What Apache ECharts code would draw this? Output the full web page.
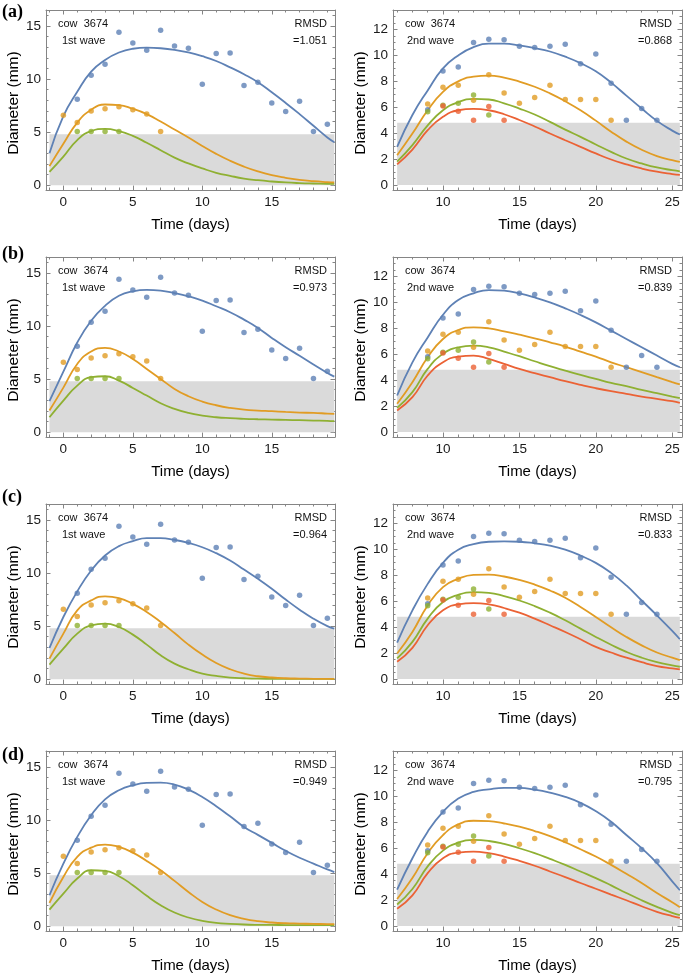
<!DOCTYPE html>
<html><head><meta charset="utf-8">
<script src="https://cdn.jsdelivr.net/npm/echarts/dist/echarts.min.js"></script>
<style>html,body{margin:0;padding:0;background:#fff}#c{width:685px;height:973px}</style>
</head><body><div id="c"></div>
<script>
// ---------- observed data (cow 3674) ----------
const w1BlueDays = [1,2,3,4,5,6,7,8,9,10,11,12,13,14,15,16,17,18,19];
const w1BlueDiam = [8.1,10.35,11.4,14.4,13.4,12.7,14.6,13.1,12.9,9.5,12.4,12.45,9.4,9.7,7.75,6.95,7.9,5.05,5.75];
const w1OrangeDays = [0,1,2,3,4,5,6,7];
const w1OrangeDiam = [6.6,5.9,7.0,7.2,7.4,7.1,6.7,5.05];
const w1GreenDays = [1,2,3,4];
const w1GreenDiam = [5.05,5.05,5.05,5.05];

const w2BlueDays = [9,10,11,12,13,14,15,16,17,18,19,20,21,22,23,24];
const w2BlueDiam = [5.8,8.8,9.1,11.0,11.25,11.2,10.7,10.6,10.7,10.85,9.35,10.1,7.85,5.0,5.9,5.0];
const w2OrangeDays = [9,10,11,12,13,14,15,16,17,18,19,20,21];
const w2OrangeDiam = [6.25,7.55,7.7,6.55,8.5,7.1,6.3,6.75,7.7,6.6,6.6,6.6,5.0];
const w2GreenDays = [9,10,11,12,13];
const w2GreenDiam = [5.65,6.15,6.3,6.95,5.4];
const w2RedDays = [10,11,12,13,14];
const w2RedDiam = [6.1,5.7,5.0,6.05,5.0];

// ---------- fitted curves ----------
const fitDaysW1 = [-1,0,1,2,3,4,5,6,7,8,9,10,11,12,13,14,15,16,17,18,19,19.5];
const fitDaysW2 = [7,8,9,10,11,12,13,14,15,16,17,18,19,20,21,22,23,24,25,25.5];

const fitA1Blue   = [3.0,6.5,8.8,10.7,11.8,12.5,12.85,12.95,12.9,12.75,12.5,12.15,11.7,11.1,10.45,9.7,8.75,7.75,6.7,5.6,4.5,4.05];
const fitA1Orange = [1.8,3.9,5.9,7.1,7.6,7.55,7.2,6.7,6.0,5.25,4.5,3.7,2.95,2.3,1.75,1.3,0.95,0.7,0.5,0.38,0.3,0.27];
const fitA1Green  = [1.25,2.7,4.25,5.1,5.3,5.1,4.65,4.0,3.3,2.6,2.05,1.58,1.17,0.88,0.63,0.47,0.35,0.26,0.2,0.16,0.13,0.12];

const fitB1Blue   = [2.92,5.7,8.45,10.5,11.9,12.85,13.27,13.4,13.33,13.1,12.8,12.4,11.86,11.3,10.6,9.82,8.88,8.0,7.2,6.37,5.58,5.24];
const fitB1Orange = [2.04,4.2,6.43,7.6,7.94,7.6,6.9,5.96,5.02,4.08,3.39,2.89,2.54,2.29,2.13,2.04,1.98,1.91,1.85,1.82,1.76,1.73];
const fitB1Green  = [1.41,2.98,4.39,5.18,5.27,4.86,4.17,3.45,2.73,2.2,1.82,1.57,1.41,1.32,1.26,1.22,1.19,1.16,1.13,1.1,1.07,1.04];

const fitC1Blue   = [2.94,5.86,8.27,10.24,11.65,12.53,13.0,13.28,13.28,13.12,12.84,12.43,11.87,11.18,10.33,9.46,8.52,7.5,6.55,5.7,5.0,4.76];
const fitC1Orange = [1.94,4.29,6.48,7.42,7.8,7.64,7.1,6.33,5.39,4.35,3.26,2.32,1.53,0.94,0.53,0.28,0.16,0.09,0.06,0.04,0.03,0.03];
const fitC1Green  = [1.38,2.88,4.29,5.07,5.23,4.92,4.2,3.26,2.25,1.47,0.94,0.53,0.31,0.16,0.09,0.05,0.04,0.03,0.03,0.03,0.03,0.03];

const fitD1Blue   = [2.92,5.9,8.41,10.45,11.95,12.8,13.27,13.49,13.52,13.34,12.86,12.17,11.3,10.35,9.35,8.6,7.85,7.1,6.45,5.9,5.35,5.1];
const fitD1Orange = [2.2,4.64,6.53,7.4,7.69,7.47,6.93,6.15,5.27,4.27,3.23,2.29,1.57,1.04,0.69,0.47,0.35,0.28,0.25,0.22,0.2,0.19];
const fitD1Green  = [1.57,3.07,4.49,5.27,5.21,4.71,3.86,2.86,1.98,1.29,0.82,0.5,0.31,0.22,0.16,0.13,0.12,0.11,0.1,0.1,0.1,0.1];

const fitA2Blue   = [2.95,5.4,7.3,9.0,10.0,10.64,10.9,10.9,10.77,10.56,10.3,9.9,9.4,8.77,7.9,6.9,5.9,4.95,4.2,3.9];
const fitA2Orange = [2.3,3.97,5.77,7.18,8.0,8.36,8.44,8.28,7.98,7.58,7.07,6.46,5.77,4.97,4.12,3.35,2.72,2.24,1.92,1.78];
const fitA2Green  = [1.8,3.08,4.6,5.77,6.4,6.64,6.6,6.3,5.9,5.44,4.87,4.28,3.72,3.13,2.56,2.05,1.67,1.36,1.15,1.06];
const fitA2Red    = [1.6,2.74,4.23,5.26,5.77,5.88,5.77,5.46,5.02,4.52,3.98,3.46,2.95,2.44,1.97,1.6,1.28,1.03,0.85,0.78];

const fitB2Blue   = [2.82,5.38,7.3,9.05,10.18,10.7,10.95,10.9,10.69,10.38,10.0,9.54,9.03,8.46,7.82,7.18,6.54,5.9,5.26,5.0];
const fitB2Orange = [2.18,3.85,5.77,7.18,7.87,8.08,8.0,7.77,7.51,7.23,6.92,6.59,6.2,5.82,5.38,5.0,4.62,4.23,3.85,3.67];
const fitB2Green  = [1.87,3.08,4.87,6.03,6.54,6.67,6.54,6.2,5.85,5.46,5.08,4.74,4.41,4.1,3.79,3.54,3.26,3.0,2.74,2.62];
const fitB2Red    = [1.67,2.69,4.36,5.38,5.82,5.9,5.64,5.26,4.87,4.54,4.23,3.92,3.64,3.38,3.15,2.95,2.74,2.56,2.38,2.26];

const fitC2Blue   = [2.81,5.3,7.34,8.96,9.98,10.41,10.59,10.62,10.59,10.47,10.29,9.98,9.52,8.96,8.19,7.22,6.06,4.91,3.71,3.07];
const fitC2Orange = [1.97,3.63,5.68,7.09,7.73,8.03,8.06,7.91,7.65,7.29,6.83,6.27,5.55,4.79,4.0,3.25,2.6,2.05,1.65,1.46];
const fitC2Green  = [1.59,2.87,4.66,5.94,6.5,6.7,6.65,6.4,6.06,5.63,5.12,4.53,3.89,3.25,2.65,2.1,1.65,1.3,1.05,0.95];
const fitC2Red    = [1.33,2.41,4.15,5.3,5.76,5.86,5.76,5.48,5.12,4.66,4.15,3.63,3.07,2.48,2.05,1.65,1.3,1.0,0.82,0.74];

const fitD2Blue   = [2.81,5.23,7.28,8.81,9.83,10.34,10.54,10.65,10.65,10.52,10.29,9.96,9.5,8.86,8.04,7.02,6.0,4.85,3.45,2.76];
const fitD2Orange = [2.09,3.7,5.62,7.02,7.84,8.12,8.09,7.91,7.66,7.33,6.94,6.46,5.92,5.36,4.72,4.03,3.32,2.55,1.84,1.46];
const fitD2Green  = [1.66,2.86,4.6,5.82,6.43,6.64,6.56,6.33,6.0,5.62,5.18,4.72,4.21,3.7,3.14,2.55,1.99,1.48,1.02,0.84];
const fitD2Red    = [1.33,2.37,4.08,5.23,5.67,5.74,5.62,5.36,5.03,4.65,4.21,3.78,3.32,2.88,2.43,1.99,1.53,1.1,0.77,0.64];

// threshold band (mm) and axis ticks
const bandTop = 4.8;
const w1BandDays = [-1, 19.5];
const w2BandDays = [7, 25.5];
const w1XTicks = [0,5,10,15];
const w2XTicks = [10,15,20,25];
const w1YTicks = [0,5,10,15];
const w2YTicks = [0,2,4,6,8,10,12];
const panelLabels = ['(a)','(b)','(c)','(d)'];
const rmsdW1 = ['=1.051','=0.973','=0.964','=0.949'];
const rmsdW2 = ['=0.868','=0.839','=0.833','=0.795'];

// ---------- styling / layout ----------
const COL = {blue:'#5E81B5', orange:'#E19C24', green:'#8FB032', red:'#EB6235'};
const FRAME = '#858585';
const BAND = '#DADADA';
const FONT = "'Liberation Sans', Arial, sans-serif";
const rowTops = [10, 257, 504, 751];
const labelYs = [12.5, 254, 497.5, 755];
const GH = 180, GW = 289;
const colLeft = [46, 393];

const zip = (a, b) => a.map((v, i) => [v, b[i]]);
const range = (a, b, s) => { const r = []; for (let v = a; v <= b + 1e-9; v += s) r.push(+v.toFixed(3)); return r; };

const fits = [
  [fitA1Blue, fitA1Orange, fitA1Green], [fitA2Blue, fitA2Orange, fitA2Green, fitA2Red],
  [fitB1Blue, fitB1Orange, fitB1Green], [fitB2Blue, fitB2Orange, fitB2Green, fitB2Red],
  [fitC1Blue, fitC1Orange, fitC1Green], [fitC2Blue, fitC2Orange, fitC2Green, fitC2Red],
  [fitD1Blue, fitD1Orange, fitD1Green], [fitD2Blue, fitD2Orange, fitD2Green, fitD2Red]
];
const colorOrder = ['blue','orange','green','red'];

const grid = [], xAxis = [], yAxis = [], series = [], graphic = [];
const NP = 8;

for (let p = 0; p < NP; p++) {
  const row = Math.floor(p / 2), col = p % 2;
  const left = colLeft[col], top = rowTops[row];
  const w1 = col === 0;
  const xr = w1 ? [-1.25, 19.55] : [6.73, 25.64];
  const yr = w1 ? [-0.45, 16.5] : [-0.38, 13.5];
  const xMaj = w1 ? w1XTicks : w2XTicks;
  const yMaj = w1 ? w1YTicks : w2YTicks;
  const xMin = w1 ? range(-1, 19, 1) : range(7, 25, 1);
  const yMin = w1 ? range(0, 16, 1) : range(0, 13, 0.5);

  const g = {left: left, top: top, width: GW, height: GH, containLabel: false};
  grid[p] = Object.assign({}, g);
  grid[NP + p] = Object.assign({}, g);

  const baseAx = (gi, pos, min, max, ticks, len, line, labels) => ({
    type: 'value', gridIndex: gi, position: pos, min: min, max: max,
    axisLine: {show: line, onZero: false, lineStyle: {color: FRAME, width: 1}},
    axisTick: {show: true, inside: true, length: len, customValues: ticks, lineStyle: {color: FRAME, width: 1}},
    axisLabel: labels ? {show: true, customValues: ticks, margin: 5, fontSize: 13.5, color: '#1a1a1a', fontFamily: FONT} : {show: false},
    splitLine: {show: false}
  });
  xAxis[2*p]   = baseAx(p, 'bottom', xr[0], xr[1], xMaj, 4.5, true, true);
  xAxis[2*p+1] = baseAx(p, 'top',    xr[0], xr[1], xMaj, 4.5, true, false);
  yAxis[2*p]   = baseAx(p, 'left',   yr[0], yr[1], yMaj, 4.5, true, true);
  yAxis[2*p+1] = baseAx(p, 'right',  yr[0], yr[1], yMaj, 4.5, true, false);
  xAxis[2*NP+2*p]   = baseAx(NP+p, 'bottom', xr[0], xr[1], xMin, 2.5, false, false);
  xAxis[2*NP+2*p+1] = baseAx(NP+p, 'top',    xr[0], xr[1], xMin, 2.5, false, false);
  yAxis[2*NP+2*p]   = baseAx(NP+p, 'left',   yr[0], yr[1], yMin, 2.5, false, false);
  yAxis[2*NP+2*p+1] = baseAx(NP+p, 'right',  yr[0], yr[1], yMin, 2.5, false, false);

  const ax = {xAxisIndex: 2*p, yAxisIndex: 2*p};
  const bandDays = w1 ? w1BandDays : w2BandDays;
  series.push(Object.assign({
    type: 'line', data: bandDays.map(d => [d, bandTop]), symbol: 'none', silent: true,
    lineStyle: {width: 0, opacity: 0}, areaStyle: {color: BAND, opacity: 1, origin: 'auto'}, z: 1
  }, ax));

  const days = w1 ? fitDaysW1 : fitDaysW2;
  fits[p].forEach((vals, k) => {
    series.push(Object.assign({
      type: 'line', data: zip(days, vals), smooth: 0.5, symbol: 'none', silent: true,
      lineStyle: {color: COL[colorOrder[k]], width: 1.8}, z: 3 + (fits[p].length - k) * 0.01
    }, ax));
  });

  const dots = w1
    ? [[w1BlueDays, w1BlueDiam, 'blue'], [w1OrangeDays, w1OrangeDiam, 'orange'], [w1GreenDays, w1GreenDiam, 'green']]
    : [[w2BlueDays, w2BlueDiam, 'blue'], [w2OrangeDays, w2OrangeDiam, 'orange'], [w2GreenDays, w2GreenDiam, 'green'], [w2RedDays, w2RedDiam, 'red']];
  dots.forEach(([d, v, c]) => {
    series.push(Object.assign({
      type: 'scatter', data: zip(d, v), symbolSize: 5.5, silent: true,
      itemStyle: {color: COL[c]}, z: 5
    }, ax));
  });

  const txt = (x, y, t, opt) => graphic.push({type: 'text', x: x, y: y, rotation: (opt && opt.rot) || 0, silent: true,
    style: Object.assign({text: t, fill: '#111', fontFamily: FONT, fontSize: 11, align: 'left', verticalAlign: 'middle'}, opt && opt.style)});
  txt(left + 12, top + 14, 'cow  3674');
  txt(left + (w1 ? 16 : 14), top + 31, w1 ? '1st wave' : '2nd wave');
  txt(left + GW - (w1 ? 8 : 10), top + 14, 'RMSD', {style: {align: 'right'}});
  txt(left + GW - (w1 ? 8 : 10), top + 31, w1 ? rmsdW1[row] : rmsdW2[row], {style: {align: 'right'}});
  txt(left + GW / 2, top + GH + 35, 'Time (days)', {style: {align: 'center', fontSize: 15, fill: '#000'}});
  txt(w1 ? 13.5 : 361, top + 93, 'Diameter (mm)', {rot: Math.PI / 2, style: {align: 'center', fontSize: 15.5, fill: '#000'}});
  if (w1) {
    txt(2, labelYs[row], panelLabels[row], {style: {fontFamily: "'Liberation Serif', 'Times New Roman', serif", fontWeight: 'bold', fontSize: 18, fill: '#000'}});
  }
}

const chart = echarts.init(document.getElementById('c'), null, {renderer: 'canvas'});
chart.setOption({animation: false, backgroundColor: '#fff', grid, xAxis, yAxis, series, graphic});
</script></body></html>
